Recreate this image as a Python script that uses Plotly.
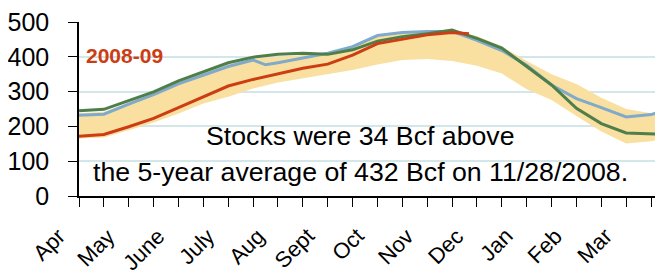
import plotly.graph_objects as go

# Months from April 1 (x unit = one month)
months = ["Apr", "May", "June", "July", "Aug", "Sept", "Oct", "Nov", "Dec", "Jan", "Feb", "Mar"]
x_half = [0, 0.5, 1, 1.5, 2, 2.5, 3, 3.5, 4, 4.5, 5, 5.5, 6, 6.5, 7, 7.5,
          8, 8.5, 9, 9.5, 10, 10.5, 11, 11.5, 11.74]

band_low = [165, 168, 189, 211, 237, 266, 285, 309, 326, 338, 350, 362, 378, 391, 394, 388,
            374, 352, 307, 276, 230, 185, 151, 157, 165]
band_high = [238, 242, 268, 295, 327, 352, 378, 395, 400, 405, 410, 428, 458, 468, 472, 473,
             460, 430, 388, 350, 322, 282, 250, 238, 240]

x_blue = [0, 0.5, 1, 1.5, 2, 2.5, 3, 3.5, 3.75, 4, 4.5, 5, 5.5, 6, 6.5, 7, 7.5,
          8, 8.5, 9, 9.5, 10, 10.5, 11, 11.5, 11.74]
blue = [232, 235, 264, 291, 322, 348, 372, 391, 377, 383, 396, 410, 429, 461, 470, 473, 473,
        447, 418, 376, 319, 280, 254, 227, 234, 245]

green = [245, 249, 274, 299, 331, 357, 383, 399, 407, 410, 407, 420, 445, 458, 466, 477,
         453, 425, 372, 319, 252, 208, 181, 177, 177]

x_red = [0, 0.5, 1, 1.5, 2, 2.5, 3, 3.5, 4, 4.5, 5, 5.5, 6, 6.5, 7, 7.5, 7.84]
red = [172, 177, 199, 223, 254, 284, 316, 335, 352, 367, 379, 405, 438, 451, 463, 470, 466]

y_ticks = [0, 100, 200, 300, 400, 500]
X_MAX = 11.74

RED = "#CC3D14"
GREEN = "#4E7E4A"
BLUE = "#80AACA"
BAND = "#F9E0A0"
GRID = "#D3E6EA"
FONT = "Liberation Sans, Arial, sans-serif"

fig = go.Figure()
fig.add_trace(go.Scatter(x=x_half, y=band_low, mode="lines", line=dict(width=0, color=BAND),
                         showlegend=False, hoverinfo="skip"))
fig.add_trace(go.Scatter(x=x_half, y=band_high, mode="lines", line=dict(width=0, color=BAND),
                         fill="tonexty", fillcolor=BAND, showlegend=False, hoverinfo="skip"))
fig.add_trace(go.Scatter(x=x_blue, y=blue, mode="lines", line=dict(width=3, color=BLUE),
                         showlegend=False))
fig.add_trace(go.Scatter(x=x_half, y=green, mode="lines", line=dict(width=3, color=GREEN),
                         showlegend=False))
fig.add_trace(go.Scatter(x=x_red, y=red, mode="lines", line=dict(width=3, color=RED),
                         showlegend=False))

annotations = []
# Month labels (rotated), ending just left of each month start
for k, m in enumerate(months):
    annotations.append(dict(x=(k - 0.12) / X_MAX, y=-0.143, xref="paper", yref="paper", text=m,
                            showarrow=False, textangle=-45, xanchor="right", yanchor="top",
                            font=dict(family=FONT, size=22, color="black")))
annotations.append(dict(x=0.91, y=405, xref="x", yref="y", text="<b>2008-09</b>", showarrow=False,
                        xanchor="center", yanchor="middle",
                        font=dict(family=FONT, size=21, color=RED)))
annotations.append(dict(x=5.66, y=172, xref="x", yref="y", text="Stocks were 34 Bcf above",
                        showarrow=False, xanchor="center", yanchor="middle",
                        font=dict(family=FONT, size=26.7, color="black")))
annotations.append(dict(x=5.66, y=70, xref="x", yref="y",
                        text="the 5-year average of 432 Bcf on 11/28/2008.",
                        showarrow=False, xanchor="center", yanchor="middle",
                        font=dict(family=FONT, size=26.7, color="black")))

# The page body adds an 8px margin, so the figure is 8px smaller and offset accordingly
fig.update_layout(
    width=655, height=271,
    margin=dict(l=68, r=0, t=14, b=83),
    paper_bgcolor="white", plot_bgcolor="white",
    annotations=annotations,
    xaxis=dict(range=[0, X_MAX], showgrid=False, zeroline=False, showline=True,
               linecolor="black", linewidth=1.5, ticks="", showticklabels=False,
               minor=dict(tickvals=[i * 0.5 for i in range(24)], ticks="outside", ticklen=9,
                          tickcolor="black", tickwidth=1, showgrid=False)),
    yaxis=dict(range=[0, 500], tickvals=y_ticks, showgrid=True, gridcolor=GRID, gridwidth=1.5,
               zeroline=False, showline=True, linecolor="black", linewidth=1.5,
               ticks="outside", ticklen=9, tickcolor="black", ticklabelstandoff=14,
               ticklabeloverflow="allow",
               tickfont=dict(family=FONT, size=25, color="black")),
)

fig.write_html("out.html")
